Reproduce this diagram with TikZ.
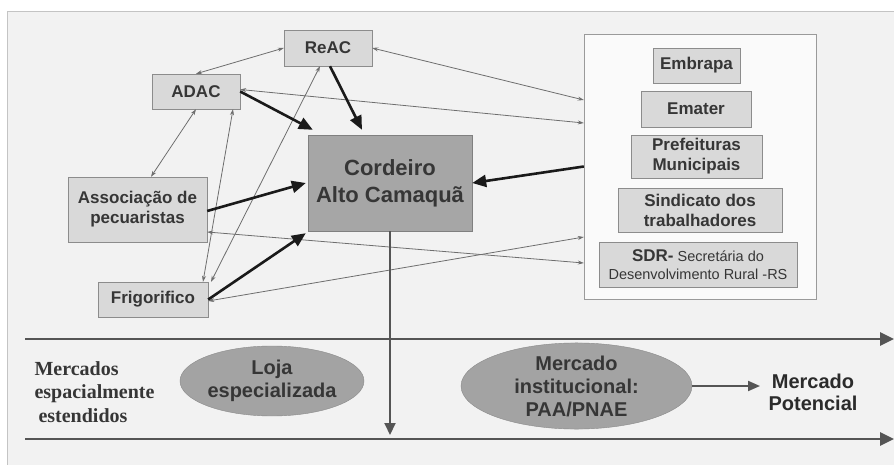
\documentclass[tikz,border=0pt]{standalone}
\usepackage{fontspec}
\setmainfont{Liberation Sans}
\newfontfamily\timesfam{Liberation Serif}
\usetikzlibrary{arrows.meta,shapes.geometric}
\definecolor{bgfill}{HTML}{F2F2F2}
\definecolor{frameline}{HTML}{C4C4C4}
\definecolor{boxfill}{HTML}{D9D9D9}
\definecolor{boxline}{HTML}{8C8C8C}
\definecolor{cordfill}{HTML}{A6A6A6}
\definecolor{cordline}{HTML}{808080}
\definecolor{ellfill}{HTML}{A3A3A3}
\definecolor{ellline}{HTML}{8A8A8A}
\definecolor{grpfill}{HTML}{FAFAFA}
\definecolor{grpline}{HTML}{9A9A9A}
\definecolor{txtgray}{HTML}{363636}
\definecolor{linkgray}{HTML}{6E6E6E}
\definecolor{strongblack}{HTML}{1A1A1A}
\definecolor{axisgray}{HTML}{555555}
\begin{document}
\begin{tikzpicture}[x=1pt,y=-1pt,
  orgbox/.style={draw=boxline,fill=boxfill,text=txtgray,inner sep=0pt,align=center,font=\fontsize{17}{20}\selectfont\bfseries},
  market/.style={ellipse,draw=ellline,fill=ellfill,text=txtgray,inner sep=0pt,align=center,font=\fontsize{20}{23}\selectfont\bfseries},
  stronglink/.style={-{Triangle[length=14pt,width=12pt]},line width=2.6pt,draw=strongblack},
  weaklink/.style={{Stealth[length=6pt,width=4pt]}-{Stealth[length=6pt,width=4pt]},line width=0.8pt,draw=linkgray},
  axisline/.style={-{Triangle[length=14pt,width=13pt]},line width=2.8pt,draw=axisgray}]
\useasboundingbox (0,0) rectangle (894,465);
\fill[white] (0,0) rectangle (894,465);
\draw[draw=frameline,fill=bgfill] (7,11) rectangle (905,475);
\node[draw=grpline,fill=grpfill,minimum width=232pt,minimum height=265pt,inner sep=0pt] (grp) at (700,166.5) {};
\node[orgbox,minimum width=88pt,minimum height=36pt] (reac) at (328,48) {ReAC};
\node[orgbox,minimum width=88pt,minimum height=35pt] (adac) at (196,91.5) {ADAC};
\node[orgbox,minimum width=139pt,minimum height=65pt] (asso) at (137.5,209.5) {Associação de\\pecuaristas};
\node[orgbox,minimum width=110pt,minimum height=35pt] (frig) at (153,299.5) {Frigorifico};
\node[orgbox,draw=cordline,fill=cordfill,minimum width=164pt,minimum height=96pt,font=\fontsize{22}{27}\selectfont\bfseries] (cord) at (390,183) {Cordeiro\\Alto Camaquã};
\node[orgbox,minimum width=87pt,minimum height=35pt] (embrapa) at (696.5,65.5) {Embrapa};
\node[orgbox,minimum width=110pt,minimum height=36pt] (emater) at (696,109) {Emater};
\node[orgbox,minimum width=131pt,minimum height=43pt] (pref) at (696.5,156.5) {Prefeituras\\Municipais};
\node[orgbox,minimum width=164pt,minimum height=44pt] (sind) at (700,210) {Sindicato dos\\trabalhadores};
\node[orgbox,minimum width=198pt,minimum height=45pt,font=\fontsize{14.5}{18.5}\selectfont] (sdr) at (698,264.5) {{\bfseries\fontsize{17}{18.5}\selectfont SDR-} Secretária do\\Desenvolvimento Rural -RS};
\draw[weaklink] (reac.west) -- (adac.north);
\draw[weaklink] (adac.south) -- ([xshift=13.5pt]asso.north);
\draw[weaklink] ([xshift=37pt]adac.south) -- ([xshift=50pt]frig.north);
\draw[weaklink] ([xshift=-8pt]reac.south) -- ([xshift=58pt]frig.north);
\draw[weaklink] (reac.east) -- ([yshift=66.5pt]grp.west);
\draw[weaklink] ([yshift=2pt]adac.east) -- ([yshift=43.5pt]grp.west);
\draw[weaklink] ([yshift=-22.5pt]asso.east) -- ([yshift=-96.5pt]grp.west);
\draw[weaklink] ([yshift=-1.5pt]frig.east) -- ([yshift=-70.5pt]grp.west);
\draw[stronglink] (adac.east) -- ([xshift=5pt,yshift=5pt]cord.north west);
\draw[stronglink] ([xshift=2pt]reac.south) -- ([xshift=-28pt,yshift=5pt]cord.north);
\draw[stronglink] ([yshift=-1.5pt]asso.east) -- ([xshift=-2pt]cord.west);
\draw[stronglink] (frig.east) -- ([xshift=-2pt,yshift=-2pt]cord.south west);
\draw[stronglink] (grp.west) -- (cord.east);
\coordinate (upper0) at (25,339);
\coordinate (upper1) at (894,339);
\coordinate (lower0) at (25,439);
\coordinate (lower1) at (894,439);
\coordinate (cordend) at (390,435);
\draw[axisline] (upper0) -- (upper1);
\draw[axisline] (lower0) -- (lower1);
\draw[-{Triangle[length=12pt,width=11pt]},line width=2pt,draw=axisgray] (cord.south) -- (cordend);
\node[anchor=west,align=left,text=txtgray,font=\timesfam\bfseries\fontsize{20}{23.5}\selectfont] (mercados) at (31,392) {Mercados\\espacialmente\\\hspace{4pt}estendidos};
\node[market,minimum width=184pt,minimum height=70pt] (loja) at (272,381) {Loja\\especializada};
\node[market,minimum width=231pt,minimum height=82pt] (inst) at (576.5,386) {Mercado\\institucional:\\PAA/PNAE};
\node[align=center,text=txtgray!80!black,font=\fontsize{20}{22}\selectfont\bfseries] (pot) at (813,392) {Mercado\\Potencial};
\draw[-{Triangle[length=12pt,width=10pt]},line width=2pt,draw=axisgray,shorten >=5pt] (inst.east) -- (inst.east -| pot.west);
\end{tikzpicture}
\end{document}
